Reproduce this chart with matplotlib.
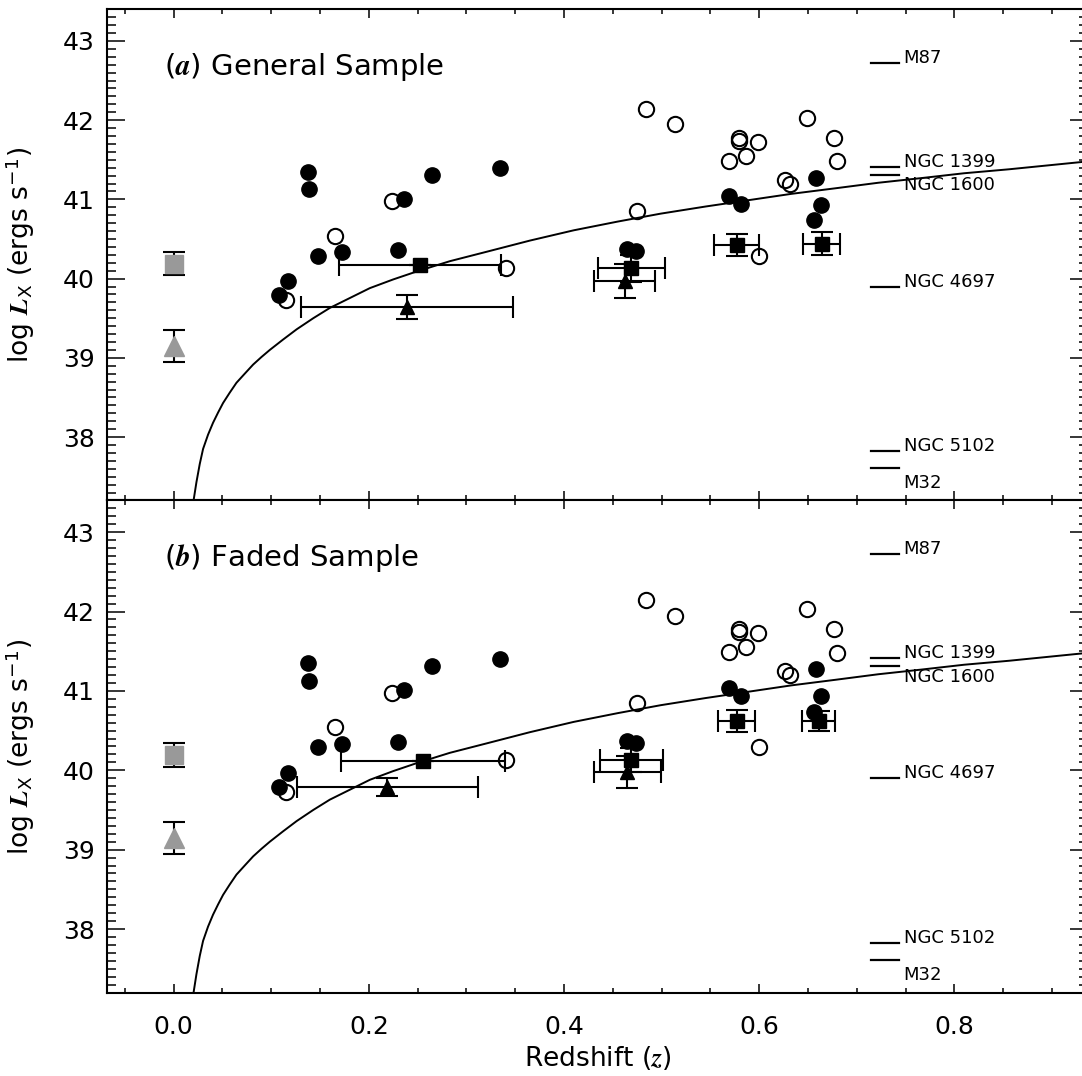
import matplotlib
matplotlib.use("Agg")
import matplotlib.pyplot as plt
from matplotlib.ticker import MultipleLocator

plt.rcParams['font.family'] = ['DejaVu Sans']
plt.rcParams['mathtext.fontset'] = 'stix'

# individual galaxies (same in both panels)
filled_z = [0.108, 0.117, 0.138, 0.139, 0.148, 0.172, 0.230, 0.236, 0.265, 0.334,
            0.465, 0.474, 0.569, 0.581, 0.656, 0.658, 0.663]
filled_L = [39.79, 39.97, 41.35, 41.13, 40.29, 40.33, 40.36, 41.01, 41.31, 41.40,
            40.37, 40.35, 41.04, 40.94, 40.74, 41.27, 40.93]
open_z = [0.115, 0.165, 0.224, 0.341, 0.475, 0.484, 0.514, 0.569, 0.579, 0.579,
          0.586, 0.599, 0.600, 0.626, 0.632, 0.649, 0.677, 0.680]
open_L = [39.73, 40.54, 40.98, 40.13, 40.85, 42.14, 41.95, 41.49, 41.78, 41.74,
          41.55, 41.73, 40.29, 41.25, 41.20, 42.03, 41.78, 41.48]

# local (z = 0) comparison points
local_sq_L, local_sq_err = 40.19, 0.15
local_tri_L, local_tri_err = 39.15, 0.20

# binned averages, panel (a)
sq_z_a = [0.252, 0.469, 0.577, 0.664]
sq_L_a = [40.17, 40.13, 40.42, 40.44]
sq_zerr_a = [0.083, 0.034, 0.023, 0.019]
sq_Lerr_a = [0.0, 0.17, 0.14, 0.145]
tri_z_a = [0.239, 0.462]
tri_L_a = [39.64, 39.97]
tri_zerr_a = [0.109, 0.031]
tri_Lerr_a = [0.15, 0.21]

# binned averages, panel (b)
sq_z_b = [0.255, 0.469, 0.577, 0.661]
sq_L_b = [40.12, 40.13, 40.62, 40.62]
sq_zerr_b = [0.084, 0.032, 0.019, 0.017]
sq_Lerr_b = [0.0, 0.15, 0.14, 0.13]
tri_z_b = [0.219, 0.465]
tri_L_b = [39.79, 39.98]
tri_zerr_b = [0.093, 0.034]
tri_Lerr_b = [0.11, 0.20]

# limit curve
curve_z = [0.0205, 0.0233, 0.0267, 0.0301, 0.0352, 0.0403, 0.0455, 0.0506, 0.0574,
           0.0643, 0.0728, 0.0814, 0.0899, 0.0985, 0.112, 0.126, 0.143, 0.160, 0.1805,
           0.201, 0.225, 0.249, 0.283, 0.321, 0.365, 0.410, 0.455, 0.499, 0.545, 0.589,
           0.633, 0.678, 0.722, 0.767, 0.810, 0.856, 0.937]
curve_L = [37.21, 37.43, 37.66, 37.85, 38.03, 38.18, 38.31, 38.43, 38.56,
           38.685, 38.80, 38.915, 39.01, 39.10, 39.23, 39.36, 39.50, 39.63, 39.755,
           39.88, 39.99, 40.09, 40.22, 40.34, 40.48, 40.61, 40.72, 40.82, 40.91, 40.99,
           41.07, 41.14, 41.21, 41.27, 41.33, 41.38, 41.48]

# nearby reference galaxies
gal_names = ['M87', 'NGC 1399', 'NGC 1600', 'NGC 4697', 'NGC 5102', 'M32']
gal_L = [42.72, 41.41, 41.31, 39.90, 37.82, 37.61]
gal_z0, gal_z1 = 0.715, 0.743
label_dy = {'NGC 1600': -1, 'M32': -4}

xticks = [0.0, 0.2, 0.4, 0.6, 0.8]
yticks = [38, 39, 40, 41, 42, 43]


def draw_panel(ax, sq_z, sq_L, sq_zerr, sq_Lerr, tri_z, tri_L, tri_zerr, tri_Lerr, tag, title):
    ax.plot(curve_z, curve_L, color='k', lw=1.4, zorder=1)
    ax.plot(filled_z, filled_L, 'o', color='k', ms=11, zorder=3)
    ax.plot(open_z, open_L, 'o', mfc='none', mec='k', mew=1.5, ms=11, zorder=3)

    ax.errorbar([0.0], [local_sq_L], yerr=[local_sq_err], fmt='s', color='0.6', ms=13,
                ecolor='k', elinewidth=1.5, capsize=8, capthick=1.5, zorder=4)
    ax.errorbar([0.0], [local_tri_L], yerr=[local_tri_err], fmt='^', color='0.6', ms=14,
                ecolor='k', elinewidth=1.5, capsize=8, capthick=1.5, zorder=4)

    ax.errorbar(sq_z, sq_L, xerr=sq_zerr, yerr=sq_Lerr, fmt='s', color='k', ms=10,
                elinewidth=1.5, capsize=8, capthick=1.5, zorder=5)
    ax.errorbar(tri_z, tri_L, xerr=tri_zerr, yerr=tri_Lerr, fmt='^', color='k', ms=10,
                elinewidth=1.5, capsize=8, capthick=1.5, zorder=5)

    for name, L in zip(gal_names, gal_L):
        ax.plot([gal_z0, gal_z1], [L, L], color='k', lw=1.6)
        if name in label_dy:
            dy, va = label_dy[name], 'top'
        else:
            dy, va = 0, 'baseline'
        ax.annotate(name, (gal_z1, L), xytext=(3.5, dy), textcoords='offset points',
                    fontsize=13, va=va, ha='left')

    ax.text(0.058, 0.866, r'($\mathbfit{%s}$) %s' % (tag, title), transform=ax.transAxes,
            fontsize=21, va='baseline', ha='left')

    ax.set_xlim(-0.068, 0.937)
    ax.set_ylim(37.2, 43.4)
    ax.set_xticks(xticks)
    ax.set_yticks(yticks)
    ax.xaxis.set_minor_locator(MultipleLocator(0.05))
    ax.yaxis.set_minor_locator(MultipleLocator(0.1))
    ax.tick_params(which='both', direction='in', top=True, right=True, width=1.1)
    ax.tick_params(axis='y', which='major', length=13, labelsize=18, pad=9)
    ax.tick_params(axis='y', which='minor', length=6.5)
    ax.tick_params(axis='x', which='major', length=6.5, labelsize=18, pad=16)
    ax.tick_params(axis='x', which='minor', length=3.5)
    for sp in ax.spines.values():
        sp.set_linewidth(1.5)
    ax.set_ylabel(r'log $\mathbfit{L}_{\mathregular{X}}$ (ergs s$^{\mathregular{-1}}$)',
                  fontsize=19)
    ax.yaxis.set_label_coords(-0.072, 0.5)


fig = plt.figure(figsize=(10.82, 10.76), dpi=100)
ax_a = fig.add_axes([0.0992, 0.5349, 0.9064, 0.4565])
ax_b = fig.add_axes([0.0992, 0.0776, 0.9064, 0.4573])

draw_panel(ax_a, sq_z_a, sq_L_a, sq_zerr_a, sq_Lerr_a, tri_z_a, tri_L_a, tri_zerr_a, tri_Lerr_a,
           'a', 'General Sample')
draw_panel(ax_b, sq_z_b, sq_L_b, sq_zerr_b, sq_Lerr_b, tri_z_b, tri_L_b, tri_zerr_b, tri_Lerr_b,
           'b', 'Faded Sample')

ax_a.tick_params(axis='x', labelbottom=False)
ax_b.set_xlabel(r'Redshift ($\mathbfit{z}$)', fontsize=19, labelpad=4)

fig.savefig('out.png', dpi=100)
